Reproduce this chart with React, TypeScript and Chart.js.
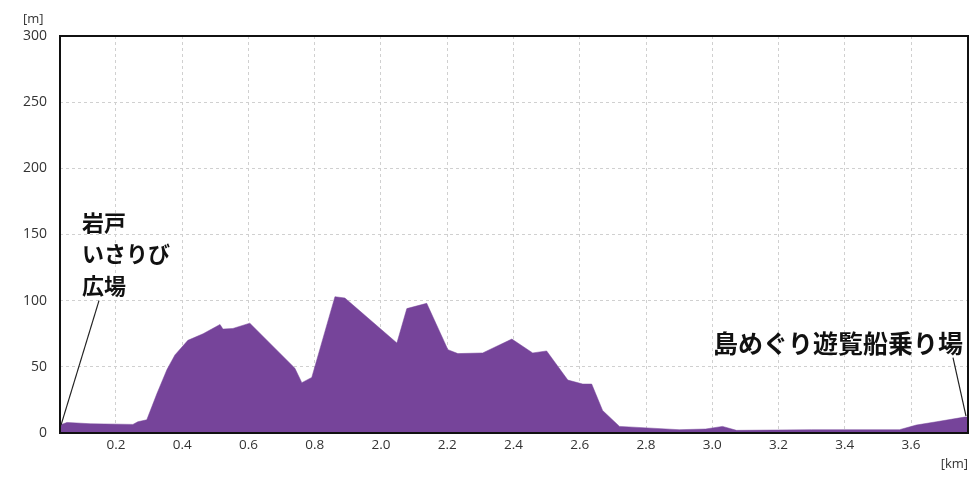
import React, { useEffect, useRef } from "react";
import { Chart, registerables } from "chart.js";

Chart.register(...registerables);

// distance along the axis (axis units) and elevation [m]
const distances = [
  0.031, 0.052, 0.122, 0.251, 0.266, 0.293, 0.324, 0.354, 0.378, 0.417, 0.463, 0.514,
  0.523, 0.553, 0.604, 0.74, 0.761, 0.791, 0.861, 0.891, 1.048, 1.078, 1.138, 1.202,
  1.232, 1.307, 1.395, 1.458, 1.5, 1.564, 1.609, 1.636, 1.669, 1.72, 1.9, 1.98, 2.031,
  2.073, 2.3, 2.565, 2.616, 2.677, 2.761, 2.772,
];
const elevations = [
  6, 8, 7, 6.5, 8.5, 10, 30, 48, 59, 70, 75, 82,
  78.5, 79, 83, 49, 38, 42, 103, 102, 68, 94, 98, 63,
  60, 60.5, 71, 60.5, 62, 40, 37, 37, 17, 5, 2.5, 3, 5,
  2, 2.5, 2.5, 6, 8.5, 12, 12,
];
const tickPositions = [0.2, 0.4, 0.6, 0.8, 1.0, 1.2, 1.4, 1.6, 1.8, 2.0, 2.2, 2.4, 2.6];
const tickLabels = ["0.2", "0.4", "0.6", "0.8", "2.0", "2.2", "2.4", "2.6", "2.8", "3.0", "3.2", "3.4", "3.6"];
const yTicks = [0, 50, 100, 150, 200, 250, 300];
const startLabel = ["岩戸", "いさりび", "広場"];
const endLabel = "島めぐり遊覧船乗り場";
const yUnit = "[m]";
const xUnit = "[km]";

const overlay = {
  id: "overlay",
  afterDraw(chart: any) {
    const { ctx, chartArea: a, scales } = chart;
    const xs = scales.x;
    const ys = scales.y;
    ctx.save();
    // frame
    ctx.strokeStyle = "#111";
    ctx.lineWidth = 2;
    ctx.strokeRect(a.left, a.top, a.right - a.left, a.bottom - a.top);
    // units
    ctx.fillStyle = "#333";
    ctx.font = "13px 'Open Sans', sans-serif";
    ctx.textAlign = "left";
    ctx.textBaseline = "middle";
    ctx.fillText(yUnit, 23, a.top - 17);
    ctx.textAlign = "right";
    ctx.fillText(xUnit, a.right, a.bottom + 31);
    // start callout
    const n = distances.length;
    const sx = xs.getPixelForValue(distances[0]);
    const sy = ys.getPixelForValue(elevations[0]);
    ctx.strokeStyle = "#222";
    ctx.lineWidth = 1.2;
    ctx.beginPath();
    ctx.moveTo(sx + 1, sy);
    ctx.lineTo(sx + 39, ys.getPixelForValue(100));
    ctx.stroke();
    ctx.fillStyle = "#111";
    ctx.font = "bold 22px 'Noto Sans CJK JP', sans-serif";
    ctx.textAlign = "left";
    ctx.textBaseline = "middle";
    const lh = 31.5;
    startLabel.forEach((t, i) => {
      ctx.fillText(t, a.left + 22, ys.getPixelForValue(159) + i * lh);
    });
    // end callout
    const ex = xs.getPixelForValue(distances[n - 1]);
    const ey = ys.getPixelForValue(elevations[n - 1]);
    ctx.beginPath();
    ctx.moveTo(ex - 2, ey - 1);
    ctx.lineTo(ex - 15, ys.getPixelForValue(57));
    ctx.stroke();
    ctx.font = "bold 25px 'Noto Sans CJK JP', sans-serif";
    ctx.textAlign = "right";
    ctx.fillText(endLabel, a.right - 5, ys.getPixelForValue(68));
    ctx.restore();
  },
};

export default function App() {
  const ref = useRef<HTMLCanvasElement>(null);
  useEffect(() => {
    document.body.style.margin = "0";
    const chart = new Chart(ref.current!, {
      type: "line",
      data: {
        datasets: [
          {
            data: distances.map((d, i) => ({ x: d, y: elevations[i] })),
            fill: "origin",
            backgroundColor: "#76449a",
            borderColor: "#76449a",
            borderWidth: 0.5,
            pointRadius: 0,
            tension: 0,
          },
        ],
      },
      options: {
        responsive: false,
        animation: false,
        layout: { padding: { left: 0, top: 36, right: 7, bottom: 0 } },
        plugins: { legend: { display: false }, tooltip: { enabled: false } },
        scales: {
          x: {
            type: "linear",
            min: distances[0],
            max: distances[distances.length - 1],
            afterBuildTicks: (s: any) => {
              s.ticks = tickPositions.map((v) => ({ value: v }));
            },
            afterFit: (s: any) => {
              s.height = 56;
            },
            ticks: {
              autoSkip: false,
              maxRotation: 0,
              padding: 4,
              color: "#333",
              font: { family: "'Open Sans', sans-serif", size: 13.5 },
              callback: (v: any) => {
                const i = tickPositions.findIndex((p) => Math.abs(p - v) < 1e-6);
                return i >= 0 ? tickLabels[i] : "";
              },
            },
            grid: { color: "#d0d0d0", lineWidth: 1, drawTicks: false },
            border: { display: false, dash: [3, 3] },
          },
          y: {
            min: 0,
            max: 300,
            afterBuildTicks: (s: any) => {
              s.ticks = yTicks.map((v) => ({ value: v }));
            },
            afterFit: (s: any) => {
              s.width = 60;
            },
            ticks: {
              padding: 13,
              color: "#333",
              font: { family: "'Open Sans', sans-serif", size: 14 },
            },
            grid: { color: "#d0d0d0", lineWidth: 1, drawTicks: false },
            border: { display: false, dash: [3, 3] },
          },
        },
      },
      plugins: [overlay],
    } as any);
    return () => chart.destroy();
  }, []);
  return (
    <div style={{ position: "absolute", left: 0, top: 0, width: 975, height: 489, background: "#fff" }}>
      <canvas ref={ref} width={975} height={489} style={{ width: 975, height: 489 }} />
    </div>
  );
}
